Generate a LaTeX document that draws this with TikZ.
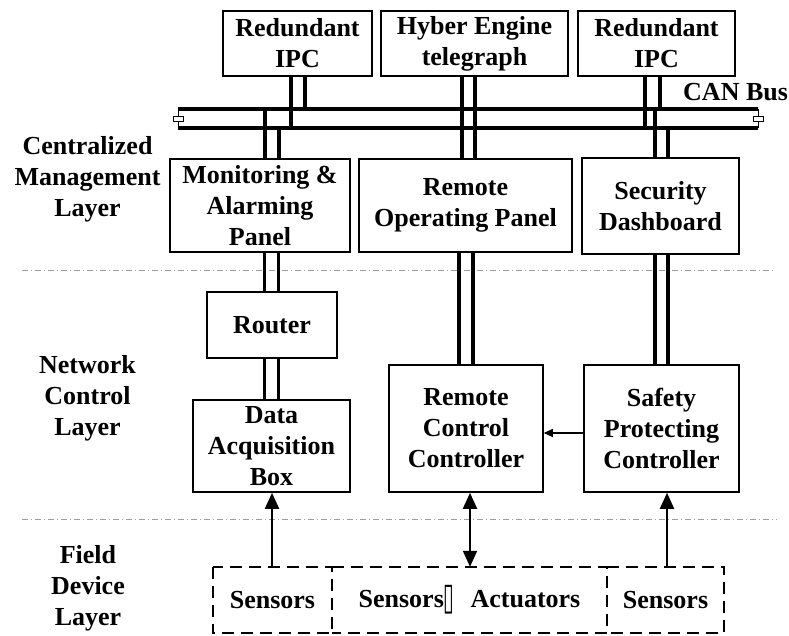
\documentclass[tikz,border=0pt]{standalone}
\usepackage{fontspec}
\usepackage{graphicx}
\setmainfont{Liberation Serif}
\newfontfamily\symfont{DejaVu Sans}
\usetikzlibrary{arrows.meta,calc}
\begin{document}
\begin{tikzpicture}[x=1pt,y=-1pt,
  txt/.style={font=\bfseries\fontsize{26}{31}\selectfont,align=center,inner sep=0pt},
  box/.style={txt,draw,line width=1.6pt},
  fieldbox/.style={txt},
  fieldline/.style={line width=1.8pt,dash pattern=on 12pt off 7pt},
  wire/.style={line width=3.8pt},
  bus/.style={line width=4pt},
  term/.style={draw,fill=white,line width=0.7pt},
  sep/.style={gray!75,line width=0.8pt,dash pattern=on 6pt off 3pt on 1pt off 3pt},
  arr/.style={line width=2pt,-{Triangle[length=16pt,width=14pt]}},
  darr/.style={line width=2pt,{Triangle[length=16pt,width=14pt]}-{Triangle[length=16pt,width=14pt]}},
  sarr/.style={line width=1.2pt,-{Triangle[length=9pt,width=8pt]}}
]
\useasboundingbox (0,0) rectangle (789,635);

% layer labels
\node[txt] (l1) at (87.5,179) {Centralized\\Management\\Layer};
\node[txt] (l2) at (87.5,398) {Network\\Control\\Layer};
\node[txt] (l3) at (88,588) {Field\\Device\\Layer};

% separators
\coordinate (s1a) at (22,270); \coordinate (s1b) at (775,270);
\coordinate (s2a) at (22,519); \coordinate (s2b) at (777,519);
\draw[sep] (s1a) -- (s1b);
\draw[sep] (s2a) -- (s2b);

% top boxes
\node[box,minimum width=149pt,minimum height=65pt] (ipc1) at (297.5,43.5) {Redundant\\IPC};
\node[box,minimum width=187pt,minimum height=65pt] (hyb) at (474.5,43.5) {Hyber Engine\\telegraph};
\node[box,minimum width=157pt,minimum height=65pt] (ipc2) at (656.5,43.5) {Redundant\\IPC};

% centralized management boxes
\node[box,minimum width=180pt,minimum height=93pt] (mon) at (260,205.5) {Monitoring \&\\Alarming\\Panel};
\node[box,minimum width=213pt,minimum height=93pt] (rop) at (465.5,205.5) {Remote\\Operating Panel};
\node[box,minimum width=157pt,minimum height=96pt] (sd) at (660.5,206) {Security\\Dashboard};

% network control boxes
\node[box,minimum width=130pt,minimum height=66pt] (router) at (272,325) {Router};
\node[box,minimum width=157pt,minimum height=92pt] (daq) at (271.5,446) {Data\\Acquisition\\Box};
\node[box,minimum width=154pt,minimum height=127pt] (rcc) at (466,428.5) {Remote\\Control\\Controller};
\node[box,minimum width=155pt,minimum height=127pt] (spc) at (661.5,428.5) {Safety\\Protecting\\Controller};

% field boxes
\node[fieldbox,minimum width=119pt,minimum height=66pt] (fs1) at (272.5,600) {Sensors};
\node[fieldbox,minimum width=275pt,minimum height=66pt] (fsa) at (469.5,600) {Sensors\raisebox{-2pt}{\scalebox{0.75}[1.45]{\symfont\mdseries ▯}}\hspace{16pt}Actuators};
\node[fieldbox,minimum width=117pt,minimum height=66pt] (fs3) at (665.5,600) {Sensors};
\draw[fieldline] (fs1.north west) rectangle (fs1.south east);
\draw[fieldline] (fsa.north west) -- (fsa.north east) -- (fsa.south east) -- (fsa.south west);
\draw[fieldline] (fs3.north west) -- (fs3.north east) -- (fs3.south east) -- (fs3.south west);

% CAN bus
\coordinate (hiL) at (178,109); \coordinate (hiR) at (758,109);
\coordinate (loL) at (178,128); \coordinate (loR) at (758,128);
\draw[bus] (hiL) -- (hiR);
\draw[bus] (loL) -- (loR);
\draw[line width=0.8pt] (hiL) -- (loL);
\draw[line width=0.8pt] (hiR) -- (loR);
\draw[term] ($(hiL)!0.5!(loL)+(-5,-2.5)$) rectangle ($(hiL)!0.5!(loL)+(5,2.5)$);
\draw[term] ($(hiR)!0.5!(loR)+(-5,-2.5)$) rectangle ($(hiR)!0.5!(loR)+(5,2.5)$);
\node[txt,anchor=base west] (can) at (683,100) {CAN Bus};

% bus drops
\draw[wire] ([xshift=-6.5pt]ipc1.south) coordinate (t) -- (t |- loL);
\draw[wire] ([xshift=7.5pt]ipc1.south) coordinate (t) -- (t |- hiL);
\draw[wire] ([xshift=5pt]mon.north) coordinate (t) -- (t |- hiL);
\draw[wire] ([xshift=19pt]mon.north) coordinate (t) -- (t |- loL);
\draw[wire] ([xshift=-12.5pt]hyb.south) coordinate (t) -- (t |- rop.north);
\draw[wire] ([xshift=0.5pt]hyb.south) coordinate (t) -- (t |- rop.north);
\draw[wire] ([xshift=-11.5pt]ipc2.south) coordinate (t) -- (t |- loL);
\draw[wire] ([xshift=3.5pt]ipc2.south) coordinate (t) -- (t |- hiL);
\draw[wire] ([xshift=-5.5pt]sd.north) coordinate (t) -- (t |- hiL);
\draw[wire] ([xshift=7.5pt]sd.north) coordinate (t) -- (t |- loL);

% inter-layer double wires
\draw[wire] ([xshift=4.5pt]mon.south) coordinate (t) -- (t |- router.north);
\draw[wire] ([xshift=18.5pt]mon.south) coordinate (t) -- (t |- router.north);
\draw[wire] ([xshift=-7.5pt]router.south) coordinate (t) -- (t |- daq.north);
\draw[wire] ([xshift=6.5pt]router.south) coordinate (t) -- (t |- daq.north);
\draw[wire] ([xshift=-6.5pt]rop.south) coordinate (t) -- (t |- rcc.north);
\draw[wire] ([xshift=7.5pt]rop.south) coordinate (t) -- (t |- rcc.north);
\draw[wire] ([xshift=-5.5pt]sd.south) coordinate (t) -- (t |- spc.north);
\draw[wire] ([xshift=7.5pt]sd.south) coordinate (t) -- (t |- spc.north);

% arrows
\draw[sarr] ([yshift=-4.5pt]spc.west) coordinate (t) -- (t -| rcc.east);
\draw[arr] ([xshift=-0.5pt]fs1.north) coordinate (t) -- (t |- daq.south);
\draw[darr] ([xshift=0.5pt]fsa.north) coordinate (t) -- (t |- rcc.south);
\draw[arr] ([xshift=1.5pt]fs3.north) coordinate (t) -- (t |- spc.south);
\end{tikzpicture}
\end{document}
